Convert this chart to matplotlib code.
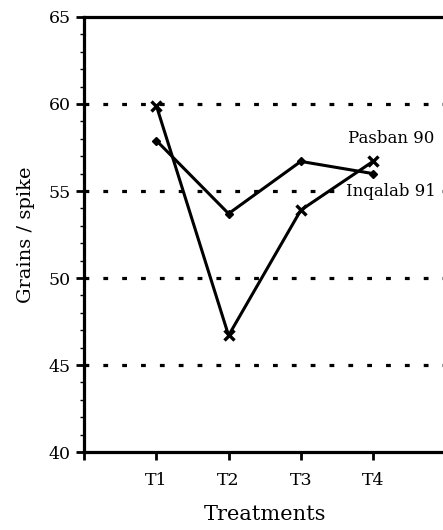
import matplotlib.pyplot as plt
from matplotlib.ticker import MultipleLocator

treatments = ['T1', 'T2', 'T3', 'T4']
pasban90 = [59.9, 46.7, 53.9, 56.7]
inqalab91 = [57.9, 53.7, 56.7, 56.0]

plt.rcParams['font.family'] = ['DejaVu Serif']

fig = plt.figure(figsize=(4.43, 5.30), dpi=100)
ax = fig.add_axes([0.19, 0.147, 0.815, 0.821])

xs = range(1, len(treatments) + 1)

# dotted reference lines
for y in [45, 50, 55, 60]:
    ax.axhline(y, color='black', linewidth=2.3, linestyle=(0, (1.5, 4.4)), zorder=1)

ax.plot(xs, pasban90, color='black', linewidth=2.2, marker='x', markersize=7.5,
        markeredgewidth=2.4, zorder=3)
ax.plot(xs, inqalab91, color='black', linewidth=2.2, marker='D', markersize=4.2, zorder=3)

ax.text(4.25, 58.0, 'Pasban 90', fontsize=12, ha='center', va='center', zorder=4)
ax.text(3.62, 55.0, 'Inqalab 91', fontsize=12, ha='left', va='center', zorder=4,
        bbox=dict(facecolor='white', edgecolor='none', pad=0.5))

ax.set_xlim(0, 5)
ax.set_ylim(40, 65)
ax.set_xticks([0] + list(xs))
ax.set_xticklabels([''] + treatments)
ax.yaxis.set_major_locator(MultipleLocator(5))
ax.yaxis.set_minor_locator(MultipleLocator(1))
ax.tick_params(axis='both', labelsize=12.5, width=2, length=6, direction='out')
ax.tick_params(axis='y', which='minor', length=3, width=1)
ax.tick_params(axis='x', pad=8)

for side in ['left', 'bottom', 'top']:
    ax.spines[side].set_linewidth(2.3)
ax.spines['right'].set_visible(False)

ax.set_xlabel('Treatments', fontsize=15, labelpad=12)
ax.set_ylabel('Grains / spike', fontsize=14, labelpad=10)

fig.savefig('out.png', dpi=100)
